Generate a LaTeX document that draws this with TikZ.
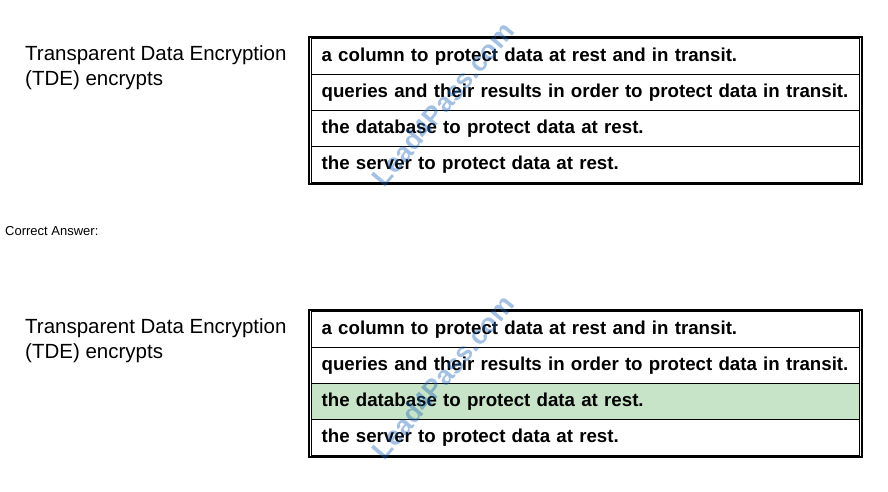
\documentclass[tikz,border=0pt]{standalone}
\usepackage{fontspec}
\setmainfont{Liberation Sans}
\begin{document}
\begin{tikzpicture}[x=1pt,y=-1pt,
  row/.style={draw=black,line width=1.2pt,minimum width=548pt,minimum height=36pt,anchor=north west,inner xsep=0pt,inner ysep=0pt,text width=528pt,align=left,font=\fontsize{18.7}{20}\selectfont\bfseries},
  frame/.style={draw=black,line width=1.5pt},
  lab/.style={anchor=north west,align=left,font=\fontsize{20.5}{25}\selectfont,inner sep=0pt},
  wm/.style={rotate=50,text=cyan!40!blue,opacity=0.4,font=\fontsize{27}{27}\selectfont\bfseries}]
\useasboundingbox (0,0) rectangle (888,492);
\fill[white] (0,0) rectangle (888,492);
% first question
\node[lab] (q1) at (25,45) {Transparent Data Encryption\\(TDE) encrypts};
\node[row] (a1) at (311,38) {a column to protect data at rest and in transit.};
\node[row] (b1) at (311,74) {queries and their results in order to protect data in transit.};
\node[row] (c1) at (311,110) {the database to protect data at rest.};
\node[row] (d1) at (311,146) {the server to protect data at rest.};
\draw[frame] (a1.north west) ++(-2,-1) rectangle ([shift={(2,1)}]d1.south east);
\node[wm] (w1) at (443,104) {Lead4Pass.com};
% caption
\node[anchor=north west,inner sep=0pt,font=\fontsize{13}{15}\selectfont] (ca) at (5,226) {Correct Answer:};
% second question
\node[lab] (q2) at (25,318) {Transparent Data Encryption\\(TDE) encrypts};
\node[row] (a2) at (311,311) {a column to protect data at rest and in transit.};
\node[row] (b2) at (311,347) {queries and their results in order to protect data in transit.};
\node[row,fill={rgb,255:red,200;green,228;blue,200}] (c2) at (311,383) {the database to protect data at rest.};
\node[row] (d2) at (311,419) {the server to protect data at rest.};
\draw[frame] (a2.north west) ++(-2,-1) rectangle ([shift={(2,1)}]d2.south east);
\node[wm] (w2) at (443,377) {Lead4Pass.com};
\end{tikzpicture}
\end{document}
